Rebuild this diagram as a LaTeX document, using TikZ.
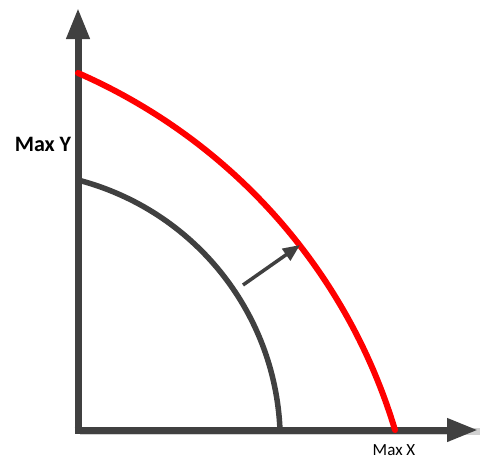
\documentclass[tikz,border=0pt]{standalone}
\usepackage{fontspec}
\setmainfont{Carlito}
\usetikzlibrary{arrows.meta}
\definecolor{axisgray}{HTML}{404040}
\definecolor{curvered}{HTML}{FF0000}
\tikzset{
  axisline/.style={draw=axisgray, line width=7pt, line join=miter, -{Triangle[length=31pt,width=22pt]}},
  axisshadow/.style={draw=black!18, line width=7pt},
  innercurve/.style={draw=axisgray, line width=5.5pt},
  outercurve/.style={draw=curvered, line width=6pt, line cap=round},
  growarrow/.style={draw=axisgray, line width=3.5pt, -{Triangle[length=17pt,width=14pt]}},
  axislabel/.style={inner sep=0pt, text=black}
}
\begin{document}
\begin{tikzpicture}[x=1pt,y=-1pt]
\useasboundingbox (0,0) rectangle (480,459);
\fill[white] (0,0) rectangle (480,459);
\coordinate (O) at (78,430);
\coordinate (ytop) at (78,8);
\coordinate (xend) at (478,430);
\coordinate (ystart) at (78,180);
\coordinate (xin) at (280,430);
\coordinate (ymax) at (78,73);
\coordinate (xmax) at (395,430);
\coordinate (arrowfrom) at (243,285);
\coordinate (arrowto) at (300,245);
% subtle shadow
\draw[axisshadow] ([shift={(1.5,1.5)}]O) -- ([shift={(1.5,1.5)}]xend|-O);
% axes
\draw[axisline] (O) -- (ytop);
\draw[axisline] ([xshift=-3.5pt]O) -- (xend);
% curves
\draw[innercurve] (ystart) .. controls (193,210) and (275,311) .. (xin);
\draw[outercurve] (ymax) .. controls (231,140) and (347,270) .. (xmax);
% arrow
\draw[growarrow] (arrowfrom) -- (arrowto);
% labels
\node[axislabel, font=\bfseries\fontsize{22}{24}\selectfont] (maxy) at (43,144) {Max Y};
\node[axislabel, anchor=base, font=\fontsize{17}{19}\selectfont] (maxx) at (394,455) {Max X};
\end{tikzpicture}
\end{document}
